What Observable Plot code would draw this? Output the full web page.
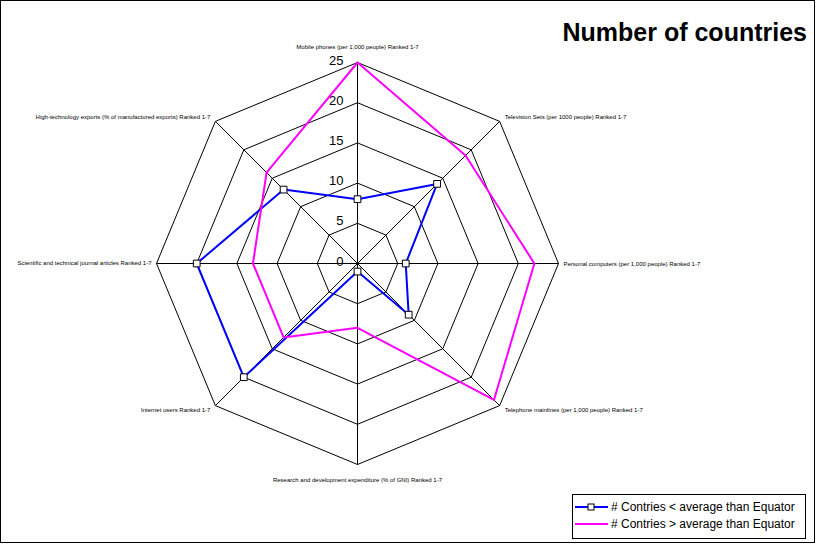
<!DOCTYPE html>
<html>
<head>
<meta charset="utf-8">
<script src="https://cdn.jsdelivr.net/npm/d3@7"></script>
<script src="https://cdn.jsdelivr.net/npm/@observablehq/plot@0.6"></script>
<style>
  html, body { margin: 0; padding: 0; background: #fff; }
  #wrap { position: relative; width: 819px; height: 544px; font-family: "Liberation Sans", Arial, sans-serif; }
  #frame { position: absolute; left: 0; top: 0; width: 813px; height: 541px; border: 1px solid #000; pointer-events: none; }
  #title { position: absolute; right: 12px; top: 18px; font-size: 25px; font-weight: bold; color: #000; }
  #legend { position: absolute; left: 572px; top: 494px; width: 234px; height: 45px; border: 1px solid #000; box-sizing: border-box; font-size: 12px; }
  .row { position: absolute; left: 2px; height: 14px; display: flex; align-items: center; white-space: nowrap; }
  .row svg { margin-right: 3px; }
</style>
</head>
<body>
<div id="wrap">
  <div id="chart"></div>
  <div id="frame"></div>
  <div id="title">Number of countries</div>
  <div id="legend">
    <div class="row" style="top:5px"><svg width="33" height="12"><line x1="0" y1="6" x2="33" y2="6" stroke="#0000ff" stroke-width="2"/><rect x="13" y="3" width="6" height="6" fill="#fff" stroke="#000" stroke-width="1"/></svg><span># Contries &lt; average than Equator</span></div>
    <div class="row" style="top:22px"><svg width="33" height="12"><line x1="0" y1="6" x2="33" y2="6" stroke="#ff00ff" stroke-width="2"/></svg><span># Contries &gt; average than Equator</span></div>
  </div>
</div>
<script>
const axisLabels = [
  "Mobile phones (per 1,000 people) Ranked 1-7",
  "Television Sets (per 1000 people) Ranked 1-7",
  "Personal computers (per 1,000 people) Ranked 1-7",
  "Telephone mainlines (per 1,000 people) Ranked 1-7",
  "Research and development expenditure (% of GNI) Ranked 1-7",
  "Internet users Ranked 1-7",
  "Scientific and technical journal articles Ranked 1-7",
  "High-technology exports (% of manufactured exports) Ranked 1-7"
];
const belowAvg = [8, 14, 6, 9, 1, 20, 20, 13];
const aboveAvg = [25, 19, 22, 24, 8, 13, 13, 16];
const ringTicks = [0, 5, 10, 15, 20, 25];
const seriesNames = ["# Contries < average than Equator", "# Contries > average than Equator"];

const maxR = 25;
const n = axisLabels.length;
const ang = i => (i % n) * 2 * Math.PI / n;
const px = (r, i) => r * Math.sin(ang(i));
const py = (r, i) => r * Math.cos(ang(i));

const rings = [];
ringTicks.filter(t => t > 0).forEach(t => {
  for (let i = 0; i <= n; i++) rings.push({t, x: px(t, i), y: py(t, i)});
});
const spokes = axisLabels.map((l, i) => ({x1: 0, y1: 0, x2: px(maxR, i), y2: py(maxR, i)}));

function seriesPts(vals, name) {
  const pts = [];
  for (let i = 0; i <= n; i++) pts.push({s: name, x: px(vals[i % n], i), y: py(vals[i % n], i)});
  return pts;
}
const blue = seriesPts(belowAvg, seriesNames[0]);
const pink = seriesPts(aboveAvg, seriesNames[1]);
const blueDots = blue.slice(0, n);

const tickData = ringTicks.map(t => ({t, x: 0, y: t}));

const labelMarks = axisLabels.map((l, i) => {
  const s = Math.sin(ang(i)), c = Math.cos(ang(i));
  let anchor = "middle", dx = 0, dy = 0;
  if (s > 0.1) { anchor = "start"; dx = 5; dy = c > 0.1 ? -4 : (c < -0.1 ? 4 : 1); }
  else if (s < -0.1) { anchor = "end"; dx = -5; dy = c > 0.1 ? -4 : (c < -0.1 ? 4 : 0); }
  else { dy = c > 0 ? -15 : 16; }
  return Plot.text([{x: px(maxR, i), y: py(maxR, i), l}], {
    x: "x", y: "y", text: "l", textAnchor: anchor, dx, dy,
    fontSize: 6, fill: "#000", fontFamily: "Liberation Sans, Arial, sans-serif"
  });
});

const W = 819, H = 544, cx = 357, cy = 263, k = 8.04;

const chart = Plot.plot({
  width: W, height: H,
  margin: 0,
  x: {domain: [-cx / k, (W - cx) / k], range: [0, W], axis: null},
  y: {domain: [-(H - cy) / k, cy / k], range: [H, 0], axis: null},
  style: {background: "transparent", fontFamily: "Liberation Sans, Arial, sans-serif"},
  marks: [
    Plot.line(rings, {x: "x", y: "y", z: "t", stroke: "#000", strokeWidth: 1}),
    Plot.link(spokes, {x1: "x1", y1: "y1", x2: "x2", y2: "y2", stroke: "#000", strokeWidth: 1}),
    Plot.line(blue, {x: "x", y: "y", stroke: "#0000ff", strokeWidth: 2}),
    Plot.dot(blueDots, {x: "x", y: "y", symbol: "square", r: 3.8, fill: "#fff", stroke: "#000", strokeWidth: 1}),
    Plot.line(pink, {x: "x", y: "y", stroke: "#ff00ff", strokeWidth: 2}),
    Plot.text(tickData, {x: "x", y: "y", text: d => String(d.t), textAnchor: "end", dx: -14, dy: -2, fontSize: 13, fill: "#000"}),
    ...labelMarks
  ]
});
document.getElementById("chart").appendChild(chart);
</script>
</body>
</html>
